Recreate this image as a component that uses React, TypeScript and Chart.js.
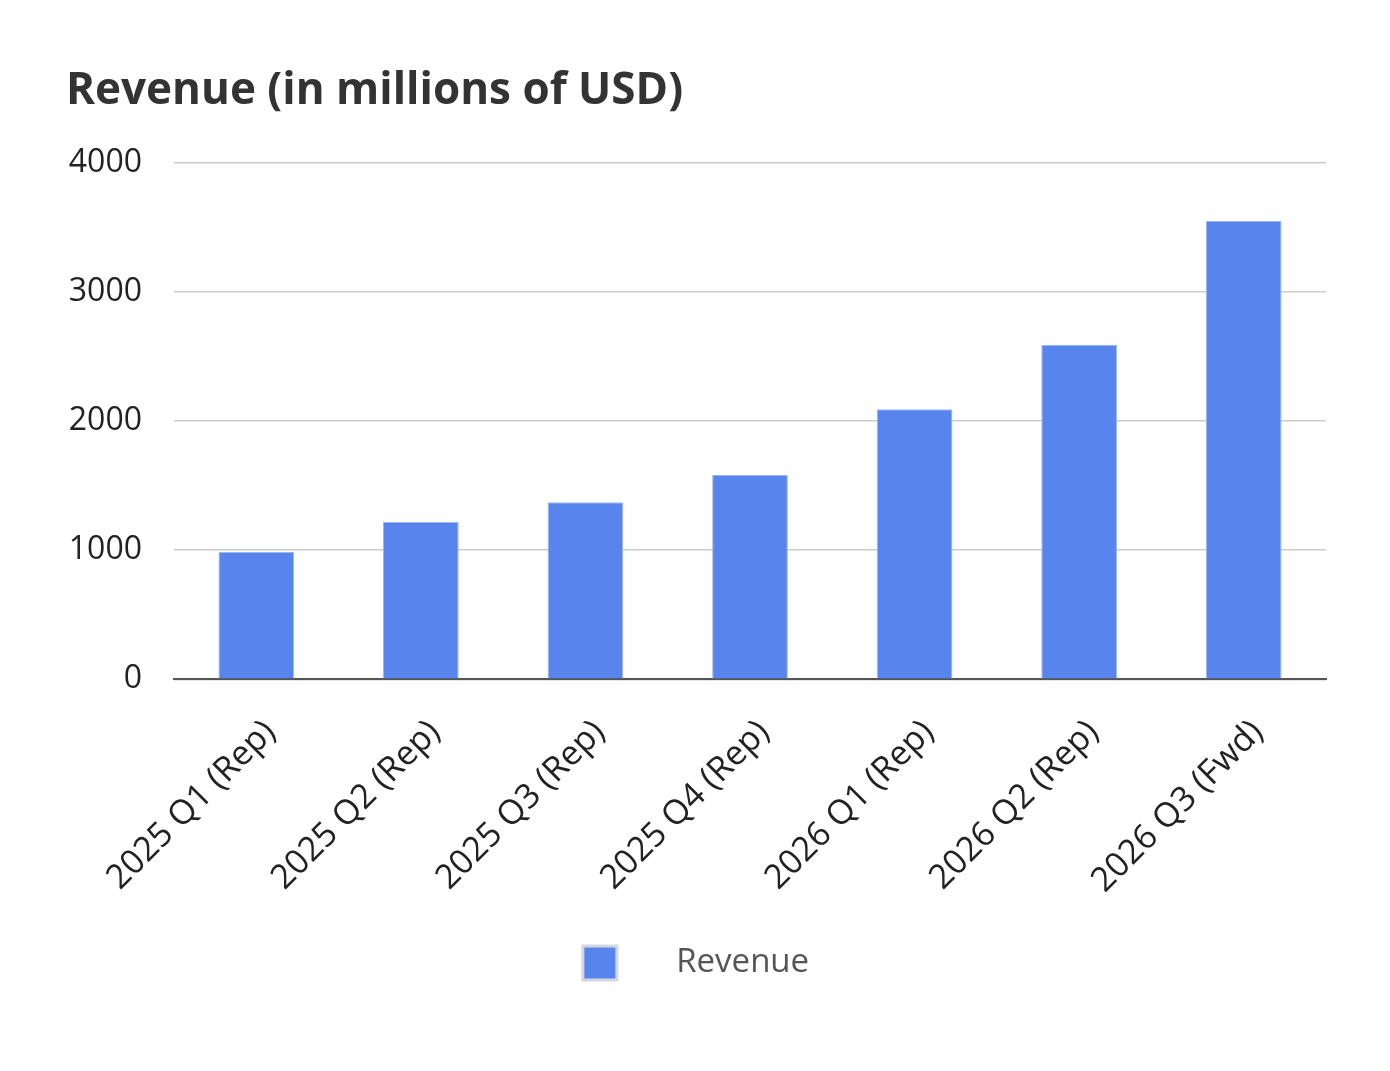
import { useEffect, useRef } from 'react';
import { Chart, registerables } from 'chart.js';

Chart.register(...registerables);

const quarters = [
  '2025 Q1 (Rep)',
  '2025 Q2 (Rep)',
  '2025 Q3 (Rep)',
  '2025 Q4 (Rep)',
  '2026 Q1 (Rep)',
  '2026 Q2 (Rep)',
  '2026 Q3 (Fwd)',
];
const revenue = [985, 1218, 1372, 1582, 2092, 2590, 3550];
const yTicks = [0, 1000, 2000, 3000, 4000];

const FONT = '"Open Sans", "Noto Sans", sans-serif';
const BAR = '#5884ee';

const App = () => {
  const canvasRef = useRef(null);

  useEffect(() => {
    const ctx = canvasRef.current.getContext('2d');
    const chart = new Chart(ctx, {
      type: 'bar',
      data: {
        labels: quarters,
        datasets: [
          {
            label: 'Revenue',
            data: revenue,
            backgroundColor: BAR,
            borderColor: '#9db6f5',
            borderWidth: 1,
            borderSkipped: 'bottom',
            categoryPercentage: 1,
            barPercentage: 0.46,
          },
        ],
      },
      options: {
        animation: false,
        responsive: true,
        maintainAspectRatio: false,
        layout: { padding: { left: 66, right: 64, top: 65, bottom: 81 } },
        plugins: {
          title: {
            display: true,
            text: 'Revenue (in millions of USD)',
            align: 'start',
            color: '#333333',
            font: { family: FONT, size: 44, weight: 'bold' },
            padding: { top: 0, bottom: 45 },
          },
          legend: {
            position: 'bottom',
            labels: {
              color: '#555555',
              font: { family: FONT, size: 33 },
              boxWidth: 34,
              boxHeight: 34,
              padding: 20,
              generateLabels: () => [
                {
                  text: '     Revenue',
                  fillStyle: BAR,
                  strokeStyle: '#d4d7dd',
                  fontColor: '#555555',
                  lineWidth: 3,
                  datasetIndex: 0,
                },
              ],
            },
          },
          tooltip: { enabled: false },
        },
        scales: {
          x: {
            grid: { display: false },
            border: { color: '#555555', width: 2 },
            ticks: {
              color: '#222222',
              font: { family: FONT, size: 34 },
              minRotation: 45,
              maxRotation: 45,
              padding: 25,
              labelOffset: 14,
            },
          },
          y: {
            min: 0,
            max: 4000,
            afterBuildTicks: (scale) => {
              scale.ticks = yTicks.map((v) => ({ value: v }));
            },
            afterFit: (scale) => {
              scale.width = 108;
            },
            grid: { color: '#cccccc', lineWidth: 1.5, drawTicks: false },
            border: { display: false },
            ticks: {
              color: '#222222',
              font: { family: FONT, size: 32 },
              padding: 32,
              callback: (v) => String(v),
            },
          },
        },
      },
    });

    return () => {
      chart.destroy();
    };
  }, []);

  return (
    <div style={{ position: 'absolute', left: 0, top: 0, width: 1390, height: 1071, background: '#fff' }}>
      <canvas ref={canvasRef} />
    </div>
  );
};

export default App;
